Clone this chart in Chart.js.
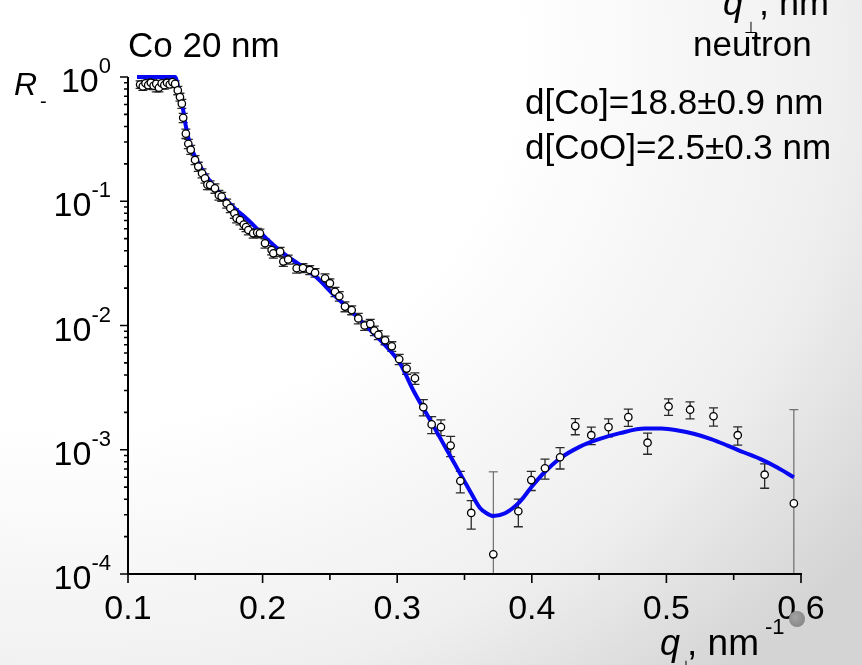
<!DOCTYPE html>
<html><head><meta charset="utf-8">
<script src="https://cdn.jsdelivr.net/npm/chart.js@4/dist/chart.umd.min.js"></script>
<style>
html,body{margin:0;padding:0;}
body{width:862px;height:665px;overflow:hidden;
 background:radial-gradient(ellipse 115% 125% at 8% 8%, #ffffff 0%, #ffffff 45%, #efefef 78%, #d4d4d4 100%);}
#wrap{position:relative;width:862px;height:665px;}
canvas{position:absolute;left:0;top:0;}
#dot{position:absolute;left:789px;top:611px;width:16px;height:16px;border-radius:50%;
 background:radial-gradient(circle at 40% 40%,#a4a4a4,#7c7c7c);}
</style></head>
<body><div id="wrap"><canvas id="c" width="862" height="665"></canvas><div id="dot"></div></div>
<script>
// measured reflectivity (neutron), q in nm^-1
const qData = [0.109,0.111,0.113,0.115,0.117,0.119,0.121,0.123,0.125,0.127,0.129,0.131,0.133,0.135,
 0.137,0.1386,0.140,0.141,0.143,0.1448,0.1466,0.1498,0.1522,0.155,0.1572,0.159,0.161,0.1646,0.1675,0.1696,
 0.1733,0.176,0.179,0.1807,0.1832,0.186,0.1877,0.1894,0.193,0.196,0.198,0.2018,0.2067,0.208,0.213,0.2154,
 0.219,0.2253,0.230,0.235,0.239,0.2464,0.250,0.2538,0.257,0.2612,0.2662,0.2711,0.2758,0.280,0.283,0.286,
 0.291,0.296,0.3015,0.307,0.3132,0.3194,0.3256,0.3325,0.3397,0.3469,0.355,0.3714,0.390,0.3996,0.4098,
 0.421,0.4323,0.4442,0.457,0.4717,0.486,0.5016,0.5176,0.535,0.553,0.573,0.5947];
const rData = [0.87,0.84,0.89,0.86,0.90,0.85,0.88,0.82,0.89,0.86,0.90,0.87,0.91,0.88,
 0.78,0.69,0.61,0.47,0.35,0.29,0.26,0.215,0.19,0.168,0.153,0.136,0.135,0.127,0.112,0.109,
 0.096,0.088,0.080,0.073,0.0706,0.065,0.062,0.0587,0.0552,0.056,0.0552,0.0459,0.0405,0.0381,0.0393,0.0327,
 0.034,0.0289,0.029,0.028,0.0266,0.024,0.0219,0.0187,0.0172,0.0142,0.0133,0.0114,0.0100,0.0103,0.0091,0.0084,
 0.0076,0.0068,0.00535,0.0045,0.00376,0.0022,0.0016,0.00152,0.00108,0.00056,0.00031,0.000144,0.00032,0.00057,0.00071,
 0.00087,0.00155,0.00131,0.00152,0.00183,0.00114,0.00223,0.0021,0.00186,0.00131,0.00063,0.00037];
const rErr = [0.06,0.06,0.05,0.06,0.05,0.06,0.12,0.06,0.05,0.06,0.05,0.05,0.05,0.05,
 0.06,0.05,0.05,0.04,0.03,0.025,0.022,0.018,0.016,0.014,0.013,0.012,0.011,0.011,0.010,0.009,
 0.008,0.007,0.007,0.006,0.006,0.0055,0.005,0.005,0.0048,0.0045,0.0045,0.004,0.0035,0.0033,0.0033,0.0028,
 0.0028,0.0025,0.0024,0.0023,0.0021,0.002,0.0018,0.0016,0.0015,0.0013,0.0011,0.0011,0.00085,0.0009,0.0008,0.0007,
 0.0006,0.0006,0.0005,0.00045,0.0004,0.00033,0.00025,0.00022,0.0002,0.00011,0.00008,0.00052,0.00008,0.0001,0.00013,
 0.00017,0.00023,0.00021,0.00025,0.00029,0.00022,0.00034,0.00033,0.00031,0.00022,0.00014,0.00173];
// fitted model curve
const qFit = [0.1067,0.135,0.1386,0.141,0.143,0.146,0.151,0.1585,0.1683,0.1782,0.1906,0.203,0.2154,0.2278,
 0.2402,0.2525,0.265,0.2773,0.2897,0.302,0.312,0.3244,0.3368,0.3491,0.3553,0.3615,0.3665,0.3714,0.3801,
 0.3912,0.3999,0.4098,0.421,0.4358,0.4482,0.4655,0.484,0.4963,0.5086,0.521,0.5332,0.5455,0.5578,0.570,0.5824,0.5947];
const rFit = [1.0,1.0,0.69,0.54,0.40,0.29,0.215,0.158,0.116,0.090,0.0685,0.050,0.0381,0.0307,
 0.0243,0.0178,0.0133,0.0098,0.0072,0.00497,0.0030,0.00174,0.0010,0.00058,0.00044,0.00034,0.000308,0.000293,0.000308,
 0.000382,0.000504,0.000665,0.000853,0.00106,0.0012,0.00136,0.00148,0.00148,0.00143,0.00134,0.00122,0.00108,0.00095,0.00084,0.00072,0.0006];
// axes
const xTicks = [0.1,0.2,0.3,0.4,0.5,0.6];
const xTickLabels = ['0.1','0.2','0.3','0.4','0.5','0.6'];
const xMinorTicks = [0.15,0.25,0.35,0.45,0.55];
const yTicks = [1,0.1,0.01,0.001,0.0001];
const yTickExp = ['0','-1','-2','-3','-4'];
const yMinorMult = [2,3,4,5,6,7,8,9];

const FONT = '"Liberation Sans", Arial, sans-serif';

const pts = qData.map((q,i)=>({x:q,y:rData[i]}));
const fit = qFit.map((q,i)=>({x:q,y:rFit[i]}));

function txt(ctx, s, x, y, size, opts){
  opts = opts || {};
  ctx.font = (opts.italic?'italic ':'') + size + 'px ' + FONT;
  ctx.textAlign = opts.align || 'left';
  ctx.textBaseline = 'alphabetic';
  ctx.fillStyle = '#000';
  ctx.fillText(s, x, y);
  return ctx.measureText(s).width;
}

const drawPlugin = {
  id: 'drawPlugin',
  beforeDatasetsDraw(chart){
    const ctx = chart.ctx, xs = chart.scales.x, ys = chart.scales.y, a = chart.chartArea;
    ctx.save();
    ctx.beginPath(); ctx.rect(a.left, a.top-2, a.right-a.left, a.bottom-a.top+2); ctx.clip();
    qData.forEach((q,i)=>{
      const x = xs.getPixelForValue(q);
      const hi = rData[i] + rErr[i];
      const lo = rData[i] - rErr[i];
      const yh = ys.getPixelForValue(hi);
      const yl = lo > 0 ? ys.getPixelForValue(lo) : a.bottom + 5;
      const long = rErr[i] > rData[i];
      ctx.strokeStyle = long ? '#555' : '#2a2a2a';
      ctx.lineWidth = long ? 1 : 1.3;
      ctx.beginPath();
      ctx.moveTo(x, yh); ctx.lineTo(x, yl);
      ctx.moveTo(x-4.5, yh); ctx.lineTo(x+4.5, yh);
      if (lo > 0) { ctx.moveTo(x-4.5, yl); ctx.lineTo(x+4.5, yl); }
      ctx.stroke();
    });
    ctx.restore();
  },
  afterDraw(chart){
    const ctx = chart.ctx, xs = chart.scales.x, ys = chart.scales.y, a = chart.chartArea;
    ctx.save();
    ctx.strokeStyle = '#000';
    // axis lines
    ctx.lineWidth = 2;
    ctx.beginPath();
    ctx.moveTo(a.left, a.top); ctx.lineTo(a.left, a.bottom);
    ctx.moveTo(a.left-1, a.bottom); ctx.lineTo(a.right+1, a.bottom);
    ctx.stroke();
    // x ticks
    ctx.lineWidth = 1.6;
    ctx.beginPath();
    xTicks.forEach(v=>{ const x = xs.getPixelForValue(v); ctx.moveTo(x, a.bottom); ctx.lineTo(x, a.bottom+9); });
    xMinorTicks.forEach(v=>{ const x = xs.getPixelForValue(v); ctx.moveTo(x, a.bottom); ctx.lineTo(x, a.bottom+6); });
    // y ticks
    yTicks.forEach(v=>{ const y = ys.getPixelForValue(v); ctx.moveTo(a.left, y); ctx.lineTo(a.left-8, y); });
    yTicks.slice(1).forEach(v=>{
      yMinorMult.forEach(m=>{ const y = ys.getPixelForValue(v*m); ctx.moveTo(a.left, y); ctx.lineTo(a.left-4, y); });
    });
    ctx.stroke();
    // x tick labels
    xTicks.forEach((v,i)=>{ txt(ctx, xTickLabels[i], xs.getPixelForValue(v), a.bottom+45, 34, {align:'center'}); });
    // y tick labels 10^n
    yTicks.forEach((v,i)=>{
      const y = ys.getPixelForValue(v);
      const w = txt(ctx, yTickExp[i], 111, y-4, 22, {align:'right'});
      txt(ctx, '10', 111 - w, y+15, 34, {align:'right'});
    });
    // axis titles
    txt(ctx, 'R', 14, 95, 32, {italic:true});
    txt(ctx, '-', 40, 108, 20);
    txt(ctx, 'q', 660, 655, 36, {italic:true});
    txt(ctx, '\u22A5', 679, 672, 16);
    txt(ctx, ', nm', 687, 655, 37);
    txt(ctx, '-1', 765, 634, 22);
    // cut-off copy of axis title at top
    txt(ctx, 'q', 723, 15, 36, {italic:true});
    txt(ctx, '\u22A5', 744, 33, 16);
    txt(ctx, ', nm', 759, 15, 36);
    // annotations
    txt(ctx, 'Co 20 nm', 128, 57, 35);
    txt(ctx, 'neutron', 693, 56, 35);
    txt(ctx, 'd[Co]=18.8\u00B10.9 nm', 525, 114, 35);
    txt(ctx, 'd[CoO]=2.5\u00B10.3 nm', 525, 159, 35);
    ctx.restore();
  }
};

new Chart(document.getElementById('c'), {
  type: 'scatter',
  data: { datasets: [
    { label:'data', data: pts, pointStyle:'circle', pointRadius:3.7, pointBorderWidth:1.3,
      pointBorderColor:'#000', pointBackgroundColor:'#fff', showLine:false, order:0, clip:6 },
    { label:'fit', data: fit, showLine:true, pointRadius:0, borderColor:'#0707f2', borderWidth:4,
      cubicInterpolationMode:'monotone', fill:false, order:1, clip:4 }
  ]},
  options: {
    responsive:false, animation:false, events:[],
    layout:{ padding:{ left:128, top:77, right:61, bottom:91 } },
    plugins:{ legend:{display:false}, tooltip:{enabled:false}, title:{display:false} },
    scales:{
      x:{ type:'linear', min:0.1, max:0.6, display:false },
      y:{ type:'logarithmic', min:0.0001, max:1, display:false }
    }
  },
  plugins:[drawPlugin]
});
</script>
</body></html>
